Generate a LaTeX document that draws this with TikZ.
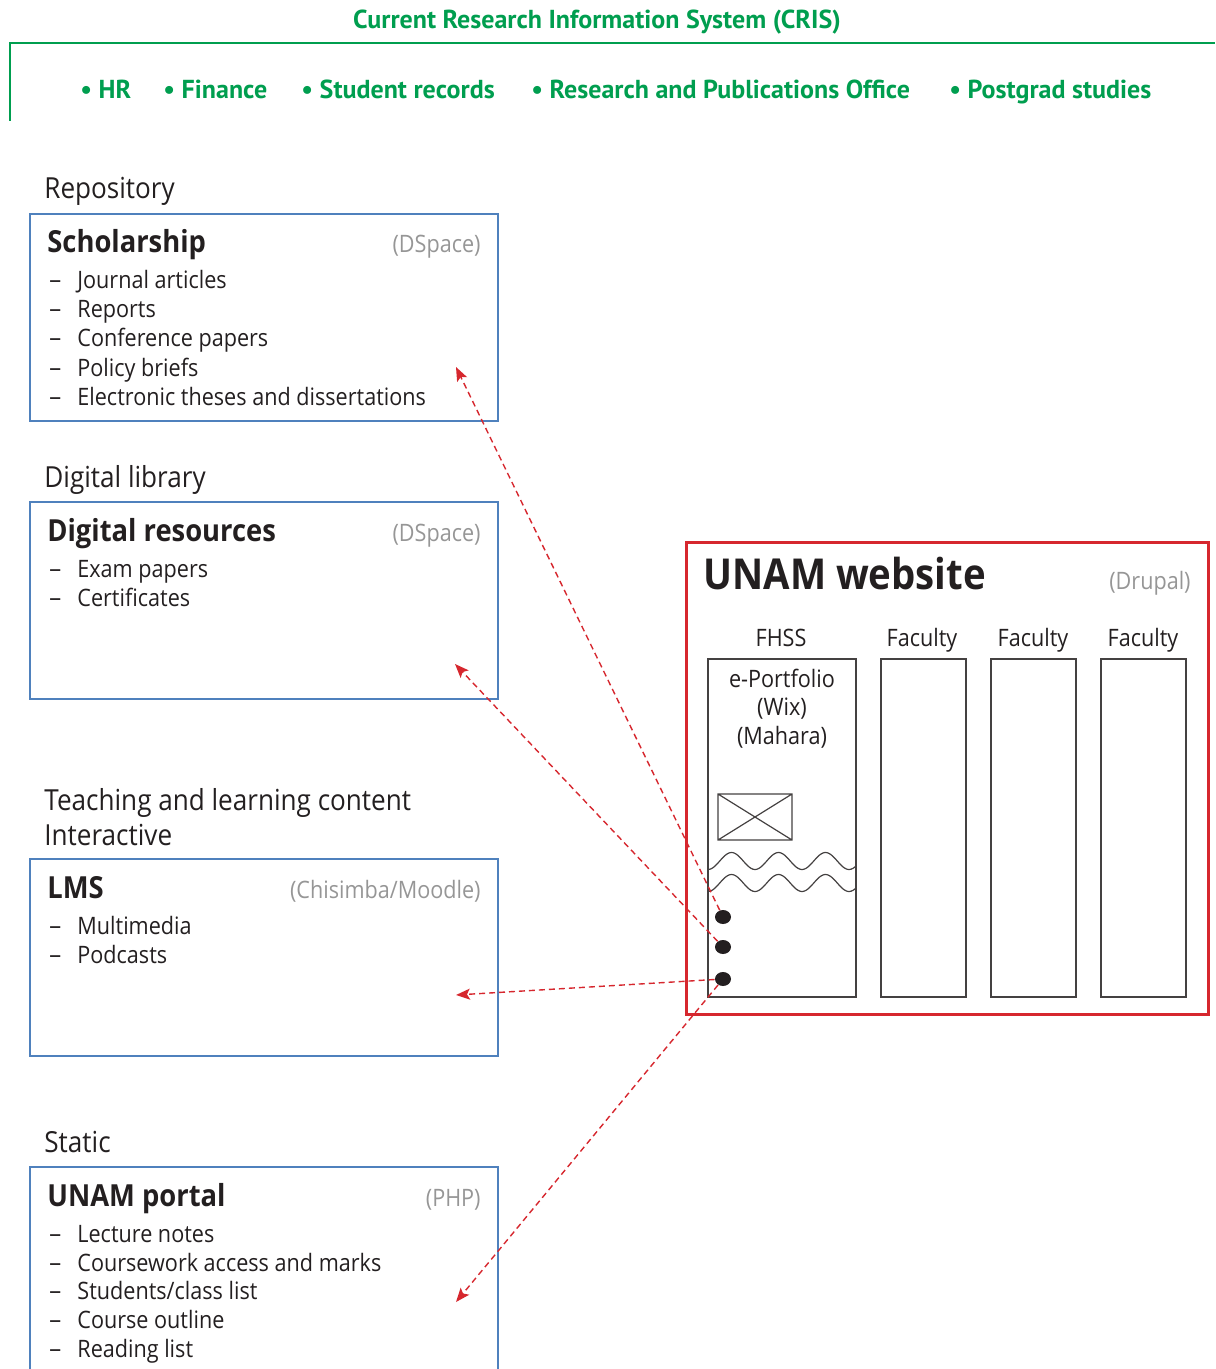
\documentclass[tikz,border=0pt]{standalone}
\usepackage{fontspec}
\setmainfont{Open Sans}[FakeStretch=0.9]
\newfontfamily\headfont{PT Sans}
\usepackage{xcolor}
\usetikzlibrary{arrows.meta, positioning, shapes.geometric}

\definecolor{crisgreen}{RGB}{0,158,79}
\definecolor{boxblue}{RGB}{79,129,189}
\definecolor{webred}{RGB}{214,39,46}
\definecolor{softgray}{RGB}{150,150,150}
\definecolor{inkblack}{RGB}{35,31,32}

\begin{document}
\begin{tikzpicture}[x=0.5pt, y=-0.5pt, >=Stealth]
  % Set the node styles
  \tikzset{
    greentext/.style={font=\headfont\bfseries\fontsize{13}{15}\selectfont, text=crisgreen, inner sep=0pt},
    grouplabel/.style={font=\fontsize{14.5}{17}\selectfont, text=inkblack, inner sep=0pt, anchor=base west},
    boxtitle/.style={font=\bfseries\fontsize{15.2}{18}\selectfont, text=inkblack, inner sep=0pt, anchor=base west},
    softnote/.style={font=\fontsize{12}{14}\selectfont, text=softgray, inner sep=0pt, anchor=base east},
    itemtext/.style={font=\fontsize{12}{14}\selectfont, text=inkblack, inner sep=0pt, anchor=base west},
    itemdash/.style={font=\headfont\fontsize{12}{14}\selectfont, text=inkblack, inner sep=0pt, anchor=base west},
    coltext/.style={font=\fontsize{12}{14}\selectfont, text=inkblack, inner sep=0pt, anchor=base},
    bluebox/.style={draw=boxblue, line width=1pt},
    colbox/.style={draw=inkblack!85, line width=0.7pt},
    linkdot/.style={ellipse, fill=inkblack, minimum width=8pt, minimum height=7pt, inner sep=0pt},
    linkarrow/.style={->, draw=webred, line width=0.7pt, dash pattern=on 3pt off 2pt,
      arrows={-Stealth[length=7pt, width=5.5pt, inset=1.5pt, fill=webred]}}
  }
  \useasboundingbox (0,0) rectangle (1215,1369);

  % CRIS header
  \node[greentext, anchor=base] (cris) at (597,29) {Current Research Information System (CRIS)};
  \draw[crisgreen, line width=0.6pt] (10,121) -- (10,43) -- (1215,43);
  \foreach \xpos/\unit [count=\k] in {80/HR, 163/Finance, 301/Student records,
      531/Research and Publications Office, 949/Postgrad studies}{
    \node[greentext, anchor=base west] (unit-\k) at (\xpos,99) {\textbullet\ \unit};
  }

  % Draw the content boxes
  \foreach \top/\bot in {214/421, 502/699, 859/1056}{
    \draw[bluebox] (30,\top) rectangle (498,\bot);
  }
  \draw[bluebox] (30,1369) -- (30,1167) -- (498,1167) -- (498,1369);

  % Repository
  \node[grouplabel] (repo) at (44,199) {Repository};
  \node[boxtitle] (schol) at (47,253) {Scholarship};
  \node[softnote] (schol-sw) at (481,253) {(DSpace)};
  \foreach \entry [count=\k] in {Journal articles, Reports, Conference papers,
      Policy briefs, Electronic theses and dissertations}{
    \node[itemdash] (schol-d\k) at (47,260+29*\k) {–};
    \node[itemtext] (schol-\k) at (77,260+29*\k) {\entry};
  }

  % Digital library
  \node[grouplabel] (diglib) at (44,487) {Digital library};
  \node[boxtitle] (digres) at (47,541) {Digital resources};
  \node[softnote] (digres-sw) at (481,541) {(DSpace)};
  \foreach \entry [count=\k] in {Exam papers, Certificates}{
    \node[itemdash] (digres-d\k) at (47,548+29*\k) {–};
    \node[itemtext] (digres-\k) at (77,548+29*\k) {\entry};
  }

  % Teaching and learning content
  \node[grouplabel] (teach) at (44,810) {Teaching and learning content};
  \node[grouplabel] (interact) at (44,845) {Interactive};
  \node[boxtitle] (lms) at (47,898) {LMS};
  \node[softnote] (lms-sw) at (481,898) {(Chisimba/Moodle)};
  \foreach \entry [count=\k] in {Multimedia, Podcasts}{
    \node[itemdash] (lms-d\k) at (47,905+29*\k) {–};
    \node[itemtext] (lms-\k) at (77,905+29*\k) {\entry};
  }

  % Static
  \node[grouplabel] (static) at (44,1152) {Static};
  \node[boxtitle] (portal) at (47,1206) {UNAM portal};
  \node[softnote] (portal-sw) at (481,1206) {(PHP)};
  \foreach \entry [count=\k] in {Lecture notes, Coursework access and marks,
      Students/class list, Course outline, Reading list}{
    \node[itemdash] (portal-d\k) at (47,1213.5+28.75*\k) {–};
    \node[itemtext] (portal-\k) at (77,1213.5+28.75*\k) {\entry};
  }

  % UNAM website
  \draw[webred, line width=1.5pt] (686,542) rectangle (1208,1014);
  \node[boxtitle, font=\bfseries\fontsize{21.3}{25}\selectfont] (website) at (703,589) {UNAM website};
  \node[softnote] (website-sw) at (1191,589) {(Drupal)};
  \node[coltext] (fhss) at (781,646) {FHSS};
  \foreach \xc [count=\k] in {922, 1033, 1143}{
    \node[coltext] (faculty-\k) at (\xc,646) {Faculty};
  }
  \draw[colbox] (708,659) rectangle (856,997);
  \foreach \xl/\xr in {881/966, 991/1076, 1101/1186}{
    \draw[colbox] (\xl,659) rectangle (\xr,997);
  }

  % e-Portfolio page
  \node[coltext] (folio-1) at (782,687) {e-Portfolio};
  \node[coltext] (folio-2) at (782,715.5) {(Wix)};
  \node[coltext] (folio-3) at (782,744) {(Mahara)};
  \draw[colbox, line width=0.6pt] (718,794) rectangle (792,840)
    (718,794) -- (792,840) (718,840) -- (792,794);
  \foreach \yc in {861, 883}{
    \draw[colbox, line width=0.6pt] plot[domain=708:856, samples=90, smooth]
      (\x, {\yc + 8.5*cos((\x-708)/47*360)});
  }

  % Link dots and arrows
  \node[linkdot] (dot-a) at (723,917) {};
  \node[linkdot] (dot-b) at (723,947) {};
  \node[linkdot] (dot-c) at (723,979) {};
  \coordinate (tip-schol) at (456,367);
  \coordinate (tip-digres) at (455,664);
  \coordinate (tip-lms) at (456,995);
  \coordinate (tip-portal) at (456,1302);
  \draw[linkarrow] (dot-a) -- (tip-schol);
  \draw[linkarrow] (dot-b) -- (tip-digres);
  \draw[linkarrow] (dot-c) -- (tip-lms);
  \draw[linkarrow] (dot-c) -- (tip-portal);
\end{tikzpicture}
\end{document}
